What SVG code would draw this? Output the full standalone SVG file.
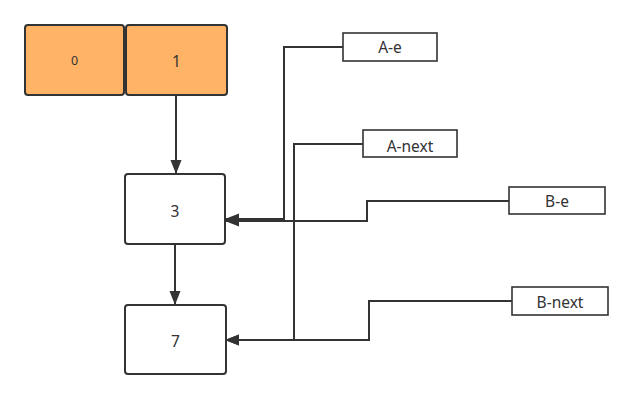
<svg xmlns="http://www.w3.org/2000/svg" width="632" height="400" viewBox="0 0 632 400">
<defs>
<style>
.n{fill:#fff;stroke:#333;stroke-width:2}
.o{fill:#FFB366;stroke:#333;stroke-width:2}
.l{fill:#fff;stroke:#333;stroke-width:1.6}
.c{fill:none;stroke:#333;stroke-width:2}
text{font-family:"Noto Sans","Open Sans",sans-serif;font-size:15.5px;fill:#333;text-anchor:middle;dominant-baseline:central}
</style>
<marker id="ah" markerWidth="14" markerHeight="12" refX="13" refY="6" orient="auto" markerUnits="userSpaceOnUse">
<path d="M0,0.5 L14,6 L0,11.5 Z" fill="#333"/>
</marker>
</defs>
<rect width="632" height="400" fill="#fff"/>
<g id="connectors">
<path class="c" d="M176,95 V173" marker-end="url(#ah)"/>
<path class="c" d="M175,244 V304" marker-end="url(#ah)"/>
<path class="c" d="M343,47 H284 V219 H226" marker-end="url(#ah)"/>
<path class="c" d="M363,144 H294 V340 H226" marker-end="url(#ah)"/>
<path class="c" d="M509,201 H367 V221 H226" marker-end="url(#ah)"/>
<path class="c" d="M512,301 H369 V340 H226" marker-end="url(#ah)"/>
</g>
<g id="n0"><rect class="o" x="25" y="25" width="99" height="70" rx="3"/><text x="74.5" y="60" style="font-size:12.5px">0</text></g>
<g id="n1"><rect class="o" x="126" y="25" width="101" height="70" rx="3"/><text x="176.5" y="61">1</text></g>
<g id="n3"><rect class="n" x="125" y="174" width="100" height="70" rx="3"/><text x="175" y="211">3</text></g>
<g id="n7"><rect class="n" x="125" y="305" width="101" height="69" rx="3"/><text x="175.5" y="341">7</text></g>
<g id="ae"><rect class="l" x="343" y="33" width="94" height="28"/><text x="390" y="47">A-e</text></g>
<g id="anext"><rect class="l" x="363" y="130" width="94" height="27"/><text x="410" y="146">A-next</text></g>
<g id="be"><rect class="l" x="509" y="187" width="96" height="27"/><text x="557" y="201">B-e</text></g>
<g id="bnext"><rect class="l" x="512" y="287" width="96" height="28"/><text x="560" y="302">B-next</text></g>
</svg>
